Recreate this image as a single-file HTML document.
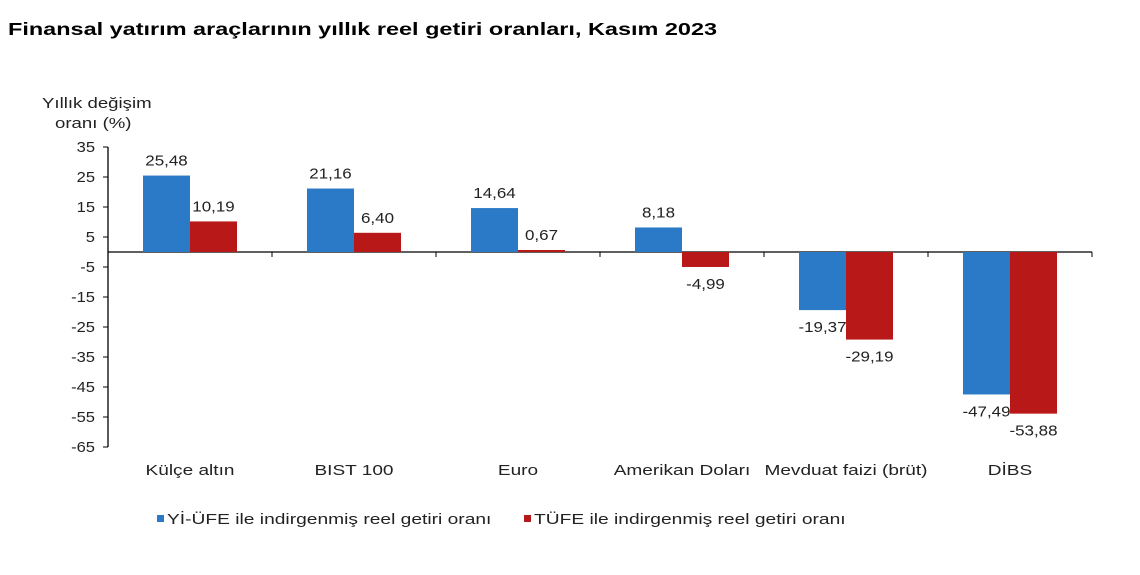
<!DOCTYPE html>
<html><head><meta charset="utf-8"><style>
body{margin:0;background:#fff;width:1140px;height:570px;overflow:hidden;font-family:"Liberation Sans",sans-serif}
</style></head><body>
<svg id="c" width="1140" height="570" xmlns="http://www.w3.org/2000/svg" font-family="Liberation Sans, sans-serif">
<text class="s" data-f="1.34" x="8" y="35" font-size="17.5" font-weight="bold" fill="#000">Finansal yatırım araçlarının yıllık reel getiri oranları, Kasım 2023</text>
<text class="s" data-f="1.24" x="42" y="108" font-size="15" fill="#222">Yıllık değişim</text>
<text class="s" data-f="1.24" x="55" y="128" font-size="15" fill="#222">oranı (%)</text>
<g id="g"></g>
</svg>
<script>
const categories=["Külçe altın","BIST 100","Euro","Amerikan Doları","Mevduat faizi (brüt)","DİBS"];
const yiufe=[25.48,21.16,14.64,8.18,-19.37,-47.49];
const tufe=[10.19,6.40,0.67,-4.99,-29.19,-53.88];
const ticks=[35,25,15,5,-5,-15,-25,-35,-45,-55,-65];
const ns="http://www.w3.org/2000/svg",g=document.getElementById('g');
const x0=108,cw=164,bw=47;
const y=v=>252-v*3;
function mk(t,a){const e=document.createElementNS(ns,t);for(const k in a)e.setAttribute(k,a[k]);g.appendChild(e);return e;}
function stretch(e,f){const L=e.getComputedTextLength();e.setAttribute('textLength',L*f);e.setAttribute('lengthAdjust','spacingAndGlyphs');}
const ax=mk('line',{x1:x0,x2:x0,y1:y(35),y2:y(-65),stroke:'#000','stroke-width':1.3});


const zl=mk('line',{x1:x0,x2:x0+6*cw,y1:y(0),y2:y(0),stroke:'#000','stroke-width':1.3});


ticks.forEach(t=>{
 const l=mk('line',{x1:x0-5,x2:x0,y1:y(t),y2:y(t),stroke:'#000'});
 
 
 const tx=mk('text',{x:x0-13,y:y(t)+5,'text-anchor':'end','font-size':15,fill:'#222'});
 tx.textContent=t;
 
 
 stretch(tx,1.1);
});
for(let i=1;i<=6;i++){
 const l=mk('line',{x1:x0+i*cw,x2:x0+i*cw,y1:y(0),y2:y(0)+5,stroke:'#000'});
 
 
}
function fmt(v){return v.toFixed(2).replace('.',',');}
categories.forEach((c,i)=>{
 const cx=x0+cw*i+cw/2;
 [[yiufe[i],'#2a7ac8',cx-bw,'bar-yiufe'],[tufe[i],'#b81818',cx,'bar-tufe']].forEach(([v,col,bx,nm])=>{
  const r=mk('rect',{x:bx,y:Math.min(y(v),y(0)),width:bw,height:Math.abs(y(v)-y(0)),fill:col});
  
  
  const t=mk('text',{x:bx+bw/2,y:v>=0?y(v)-10:y(v)+22,'text-anchor':'middle','font-size':15,fill:'#222'});
  t.textContent=fmt(v);
  
  
  stretch(t,1.13);
 });
 const t=mk('text',{x:cx,y:475,'text-anchor':'middle','font-size':15,fill:'#222'});
 t.textContent=c;
 
 
 stretch(t,1.27);
});
[['#2a7ac8',157,'Yİ-ÜFE ile indirgenmiş reel getiri oranı','legend-yiufe'],['#b81818',524,'TÜFE ile indirgenmiş reel getiri oranı','legend-tufe']].forEach(([col,lx,txt,nm])=>{
 const s=mk('rect',{x:lx,y:515,width:7,height:7,fill:col});
 
 
 const t=mk('text',{x:lx+10,y:524,'font-size':15,fill:'#222'});
 t.textContent=txt;
 
 
 stretch(t,1.28);
});
document.querySelectorAll('text.s').forEach(e=>stretch(e,parseFloat(e.getAttribute('data-f'))));
</script>
</body></html>
